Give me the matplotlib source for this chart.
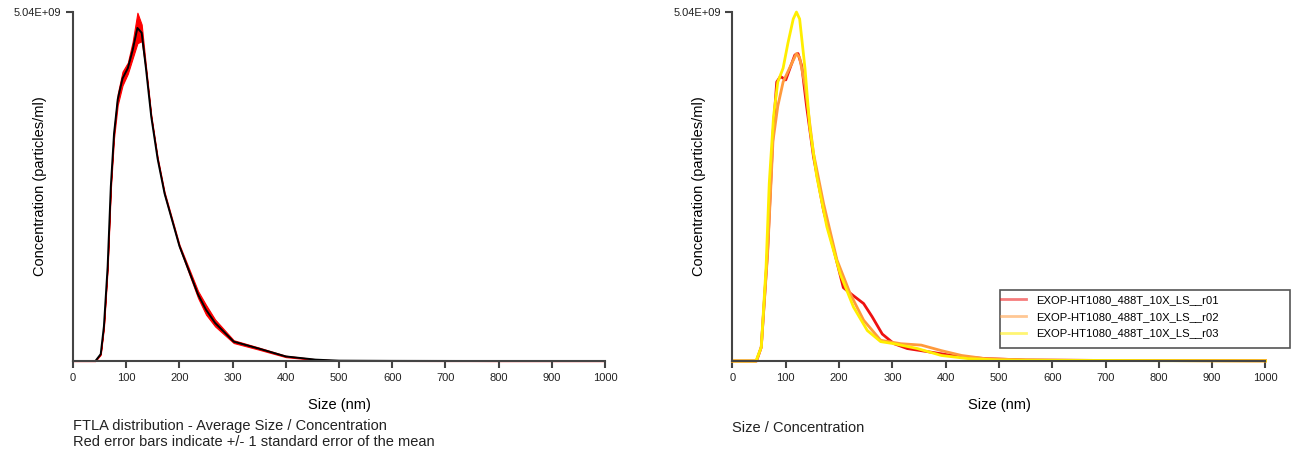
import numpy as np
import matplotlib
matplotlib.use("Agg")
import matplotlib.pyplot as plt
from matplotlib.patches import Rectangle

plt.rcParams['font.family'] = ['Liberation Sans', 'DejaVu Sans']

# concentration in 1E9 particles/ml, size in nm
ymax = 5.04

# left: FTLA average with standard error
avg_size = [0, 42, 52, 58, 65, 71, 77, 84, 93, 103, 112, 121, 129, 137, 147, 159, 172,
            200, 235, 250, 267, 302, 349, 400, 456, 500, 600, 700, 800, 1000]
avg_conc = [0, 0, 0.10, 0.50, 1.36, 2.52, 3.28, 3.78, 4.08, 4.23, 4.49, 4.81, 4.74, 4.23,
            3.53, 2.92, 2.42, 1.66, 0.96, 0.74, 0.55, 0.28, 0.18, 0.066, 0.02, 0.005,
            0.002, 0.001, 0, 0]
avg_sem = [0, 0, 0.01, 0.02, 0.03, 0.04, 0.06, 0.08, 0.10, 0.08, 0.12, 0.22, 0.12, 0.03,
           0.02, 0.02, 0.02, 0.02, 0.05, 0.07, 0.05, 0.02, 0.015, 0.01, 0.005, 0.003,
           0.001, 0.001, 0, 0]

# right: individual runs
r01_size = [0, 45, 54, 66, 76, 83, 90, 100, 107, 117, 123, 130, 139, 152, 171, 190, 208,
            224, 246, 262, 281, 303, 328, 379, 423, 474, 550, 700, 1000]
r01_conc = [0, 0, 0.20, 1.61, 3.28, 4.03, 4.11, 4.06, 4.21, 4.42, 4.44, 4.26, 3.68, 2.95,
            2.17, 1.61, 1.06, 0.96, 0.83, 0.64, 0.39, 0.25, 0.18, 0.12, 0.066, 0.035,
            0.015, 0.008, 0.003]
r02_size = [0, 45, 54, 66, 76, 85, 95, 107, 120, 126, 136, 152, 171, 196, 221, 246, 278,
            316, 354, 392, 430, 474, 550, 700, 1000]
r02_conc = [0, 0, 0.20, 1.56, 3.18, 3.68, 4.03, 4.23, 4.44, 4.38, 3.98, 3.00, 2.27, 1.46,
            0.97, 0.59, 0.30, 0.25, 0.23, 0.15, 0.08, 0.035, 0.015, 0.008, 0.003]
r03_size = [0, 44, 54, 63, 69, 77, 85, 95, 104, 114, 120, 126, 136, 145, 158, 177, 202,
            227, 253, 278, 303, 347, 392, 442, 500, 600, 700, 800, 900, 1000]
r03_conc = [0, 0, 0.20, 1.36, 2.57, 3.53, 4.03, 4.23, 4.59, 4.94, 5.04, 4.94, 4.23, 3.38,
            2.67, 1.94, 1.26, 0.78, 0.44, 0.28, 0.25, 0.18, 0.08, 0.035, 0.015, 0.01,
            0.008, 0.005, 0.003, 0.002]
run_names = ["EXOP-HT1080_488T_10X_LS__r01", "EXOP-HT1080_488T_10X_LS__r02",
             "EXOP-HT1080_488T_10X_LS__r03"]
run_colors = ["#ee1111", "#ff9a3c", "#ffee00"]

fig = plt.figure(figsize=(12.93, 4.54), dpi=100)
ax1 = fig.add_axes([0.0565, 0.2048, 0.4114, 0.7687])
ax2 = fig.add_axes([0.5665, 0.2048, 0.4122, 0.7687])

def style(ax):
    ax.set_xlim(0, 1000)
    ax.set_ylim(0, ymax)
    for s in ["top", "right"]:
        ax.spines[s].set_visible(False)
    for s in ["left", "bottom"]:
        ax.spines[s].set_color("#444444")
        ax.spines[s].set_linewidth(1.5)
    ax.set_xticks(range(0, 1001, 100))
    ax.set_yticks([ymax])
    ax.set_yticklabels(["5.04E+09"])
    ax.tick_params(axis="both", colors="#444444", labelcolor="#222222", labelsize=8,
                   width=1.5, length=5)
    ax.set_xlabel("Size (nm)", fontsize=10.5)
    ax.xaxis.set_label_coords(0.5, -0.105)
    ax.set_ylabel("Concentration (particles/ml)", fontsize=10.5)
    ax.yaxis.set_label_coords(-0.049, 0.5)

style(ax1)
lo = np.array(avg_conc) - np.array(avg_sem)
hi = np.array(avg_conc) + np.array(avg_sem)
ax1.fill_between(avg_size, lo, hi, color="#ff0000", lw=0.8, clip_on=False)
ax1.plot(avg_size, avg_conc, color="black", lw=1.4, clip_on=False)

style(ax2)
for xs, ys, name, c in zip([r01_size, r02_size, r03_size], [r01_conc, r02_conc, r03_conc],
                           run_names, run_colors):
    ax2.plot(xs, ys, color=c, lw=2, label=name, clip_on=False)

# legend box reaches almost to the right edge
fig.patches.append(Rectangle((1000 / 1293, 1 - 348 / 454), 290 / 1293, 58 / 454,
                             transform=fig.transFigure, facecolor="white",
                             edgecolor="#555555", lw=1.2, zorder=2))
leg = fig.legend(loc="upper left", bbox_to_anchor=(1001 / 1293, 1 - 295 / 454),
                 fontsize=8.1, frameon=False, handlelength=2.2, handletextpad=0.9,
                 borderpad=0, labelspacing=0.6, borderaxespad=0)
leg.set_zorder(3)
for h in leg.get_lines():
    h.set_alpha(0.55)

fig.text(0.0565, 0.078, "FTLA distribution - Average Size / Concentration\n"
         "Red error bars indicate +/- 1 standard error of the mean",
         fontsize=10.5, linespacing=1.2, color="#222222", va="top")
fig.text(0.5665, 0.073, "Size / Concentration", fontsize=10.5, color="#222222", va="top")

fig.savefig("out.png", dpi=100)
